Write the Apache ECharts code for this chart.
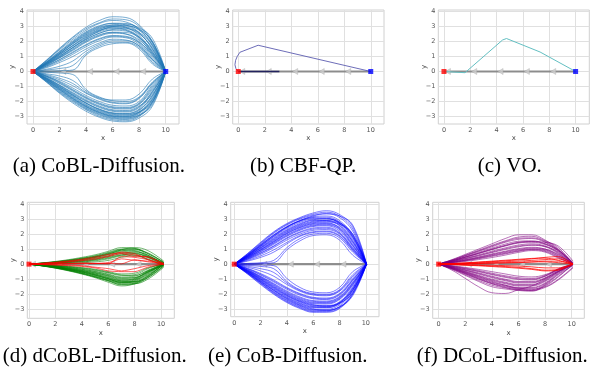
<!DOCTYPE html>
<html><head><meta charset="utf-8">
<script src="https://cdn.jsdelivr.net/npm/echarts@6/dist/echarts.min.js"></script>
<style>html,body{margin:0;padding:0;background:#fff}#c{width:595px;height:369px}</style>
</head><body><div id="c"></div>
<script>
// ---------- tick labels & captions ----------
const xTickValues = [0, 2, 4, 6, 8, 10];
const yTickValues = [-3, -2, -1, 0, 1, 2, 3, 4];
const captions = ['(a) CoBL-Diffusion.', '(b) CBF-QP.', '(c) VO.', '(d) dCoBL-Diffusion.', '(e) CoB-Diffusion.', '(f) DCoL-Diffusion.'];

// ---------- obstacle (other agent) path ----------
const obstaclePath = [[0, 0], [10, 0]];
const obstacleArrowX = [0.3, 2.3, 4.3, 6.3, 8.3];
const startPoint = [0, 0];
const goalPoint = [10, 0];

// ---------- (a) CoBL-Diffusion ----------
const xsA = [0, 1, 2, 3, 4, 5, 6, 7, 8, 9, 10];
const coblTraj = [
  [0,0.75,1.55,2.3,2.95,3.4,3.65,3.6,3.1,2.0,0],
  [0,0.7,1.45,2.15,2.75,3.2,3.4,3.3,2.8,1.7,0],
  [0,0.65,1.35,2.05,2.65,3.05,3.2,3.1,2.6,1.5,0],
  [0,0.6,1.3,1.95,2.55,2.95,3.1,2.95,2.4,1.3,0],
  [0,0.6,1.2,1.85,2.45,2.85,3.0,2.9,2.5,1.6,0],
  [0,0.55,1.15,1.75,2.35,2.75,2.9,2.8,2.3,1.2,0],
  [0,0.5,1.1,1.7,2.25,2.65,2.85,2.75,2.2,1.1,0],
  [0,0.5,1.05,1.6,2.15,2.55,2.75,2.7,2.3,1.4,0],
  [0,0.45,0.95,1.5,2.05,2.45,2.6,2.5,2.0,1.0,0],
  [0,0.4,0.9,1.4,1.95,2.35,2.55,2.5,2.1,1.2,0],
  [0,0.35,0.8,1.3,1.8,2.2,2.4,2.35,1.9,0.9,0],
  [0,0.3,0.7,1.15,1.65,2.05,2.3,2.25,1.8,0.8,0],
  [0,0.25,0.6,1.0,1.5,1.9,2.15,2.1,1.7,0.7,0],
  [0,0.1,0.2,0.4,1.2,1.7,1.95,1.95,1.6,0.6,0],
  [0,0.02,0.05,0.1,1.1,1.6,1.85,1.9,1.5,0.5,0],
  [0,0.5,1.0,1.6,2.2,2.7,3.0,3.05,2.8,2.0,0],
  [0,0.55,1.2,1.9,2.5,2.9,3.1,3.15,2.9,2.2,0],
  [0,0.72,1.5,2.25,2.85,3.25,3.5,3.45,3.0,1.9,0],
  [0,0.62,1.28,1.98,2.6,3.0,3.22,3.2,2.85,1.95,0],
  [0,0.58,1.22,1.85,2.4,2.8,3.05,3.05,2.75,1.8,0],
  [0,0.52,1.12,1.72,2.3,2.72,2.95,2.95,2.55,1.5,0],
  [0,0.46,1.0,1.58,2.12,2.55,2.8,2.85,2.6,1.75,0],
  [0,0.42,0.92,1.45,2.0,2.4,2.62,2.6,2.25,1.3,0],
  [0,0.36,0.78,1.25,1.75,2.15,2.35,2.3,1.95,1.1,0],
  [0,0.15,0.35,0.7,1.35,1.8,2.05,2.05,1.7,0.8,0],
  [0,-0.7,-1.45,-2.1,-2.65,-3.05,-3.3,-3.35,-3.1,-2.3,0],
  [0,-0.65,-1.35,-1.95,-2.5,-2.9,-3.15,-3.2,-2.95,-2.1,0],
  [0,-0.6,-1.25,-1.85,-2.4,-2.8,-3.05,-3.1,-2.8,-1.9,0],
  [0,-0.55,-1.15,-1.75,-2.3,-2.7,-2.95,-3.0,-2.7,-1.7,0],
  [0,-0.5,-1.1,-1.65,-2.2,-2.6,-2.85,-2.9,-2.6,-1.6,0],
  [0,-0.5,-1.05,-1.6,-2.1,-2.5,-2.75,-2.8,-2.5,-1.4,0],
  [0,-0.45,-0.95,-1.5,-2.0,-2.4,-2.65,-2.7,-2.4,-1.3,0],
  [0,-0.4,-0.9,-1.4,-1.9,-2.3,-2.55,-2.6,-2.3,-1.5,0],
  [0,-0.35,-0.8,-1.3,-1.8,-2.2,-2.45,-2.5,-2.2,-1.2,0],
  [0,-0.3,-0.7,-1.2,-1.7,-2.1,-2.35,-2.4,-2.1,-1.0,0],
  [0,-0.3,-0.65,-1.1,-1.6,-2.0,-2.25,-2.3,-2.0,-0.9,0],
  [0,-0.25,-0.55,-0.95,-1.45,-1.85,-2.1,-2.15,-1.8,-0.8,0],
  [0,-0.15,-0.3,-0.6,-1.3,-1.75,-1.95,-2.0,-1.7,-0.7,0],
  [0,-0.05,-0.1,-0.2,-1.2,-1.7,-1.9,-1.9,-1.5,-0.5,0],
  [0,-0.6,-1.2,-1.8,-2.35,-2.75,-3.0,-3.05,-2.9,-2.2,0],
  [0,-0.45,-1.0,-1.55,-2.1,-2.55,-2.8,-2.85,-2.7,-2.0,0],
  [0,-0.68,-1.4,-2.02,-2.55,-2.98,-3.22,-3.28,-3.0,-2.05,0],
  [0,-0.62,-1.3,-1.9,-2.45,-2.85,-3.1,-3.15,-2.9,-2.0,0],
  [0,-0.57,-1.2,-1.8,-2.33,-2.73,-2.98,-3.02,-2.75,-1.8,0],
  [0,-0.52,-1.12,-1.7,-2.25,-2.65,-2.9,-2.95,-2.7,-1.85,0],
  [0,-0.48,-1.02,-1.58,-2.12,-2.52,-2.78,-2.82,-2.55,-1.6,0],
  [0,-0.42,-0.92,-1.45,-1.95,-2.35,-2.6,-2.65,-2.35,-1.35,0],
  [0,-0.33,-0.75,-1.25,-1.75,-2.15,-2.4,-2.45,-2.15,-1.1,0],
  [0,-0.2,-0.45,-0.8,-1.4,-1.8,-2.05,-2.1,-1.75,-0.75,0]
];

// ---------- (b) CBF-QP ----------
const cbfX = [0, -0.18, -0.25, -0.2, -0.08, 0.12, 1.5, 10];
const cbfY = [0, 0.2, 0.45, 0.75, 1.0, 1.28, 1.75, 0];
const cbfFlatX = [0, 3.1];
const cbfFlatY = [0, 0];

// ---------- (c) VO ----------
const voX = [0, 0.05, 1.6, 4.45, 4.75, 7.3, 10];
const voY = [0, -0.06, -0.08, 2.1, 2.2, 1.3, 0];

// ---------- (d) dCoBL-Diffusion ----------
const xsD = [0, 1, 2, 3, 4, 5, 6, 7, 8, 9, 10.2];
const dcoblGreen = [
  [0,0.08,0.18,0.3,0.45,0.62,0.85,1.1,1.05,0.7,0.1],
  [0,0.07,0.16,0.27,0.4,0.56,0.78,1.0,1.0,0.6,0],
  [0,0.06,0.14,0.24,0.36,0.5,0.7,0.92,0.9,0.55,0.05],
  [0,0.05,0.12,0.2,0.3,0.44,0.62,0.82,0.85,0.5,-0.05],
  [0,0.05,0.1,0.17,0.26,0.38,0.55,0.75,0.75,0.45,0],
  [0,0.04,0.08,0.13,0.2,0.3,0.45,0.62,0.7,0.5,0.1],
  [0,0.03,0.06,0.1,0.15,0.22,0.35,0.55,0.6,0.35,0],
  [0,0.02,0.04,0.06,0.1,0.15,0.25,0.45,0.55,0.3,-0.1],
  [0,0.05,0.11,0.19,0.3,0.45,0.65,0.95,1.1,0.9,0.2],
  [0,0.06,0.13,0.22,0.34,0.48,0.68,0.88,0.95,0.75,0.1],
  [0,0.07,0.15,0.25,0.38,0.53,0.74,0.98,1.02,0.7,0.15],
  [0,0.04,0.09,0.15,0.23,0.34,0.5,0.7,0.8,0.6,0],
  [0,0.03,0.07,0.12,0.18,0.27,0.4,0.6,0.68,0.45,0.05],
  [0,-0.12,-0.27,-0.45,-0.66,-0.9,-1.2,-1.45,-1.3,-0.85,-0.1],
  [0,-0.11,-0.25,-0.42,-0.62,-0.86,-1.12,-1.35,-1.25,-0.8,0],
  [0,-0.1,-0.23,-0.39,-0.58,-0.8,-1.05,-1.25,-1.15,-0.7,-0.05],
  [0,-0.1,-0.22,-0.37,-0.55,-0.76,-1.0,-1.2,-1.1,-0.6,0.05],
  [0,-0.09,-0.2,-0.34,-0.5,-0.7,-0.95,-1.15,-1.05,-0.55,0],
  [0,-0.08,-0.18,-0.31,-0.46,-0.65,-0.88,-1.1,-1.0,-0.5,-0.1],
  [0,-0.08,-0.17,-0.29,-0.43,-0.6,-0.82,-1.05,-0.95,-0.45,0],
  [0,-0.07,-0.15,-0.26,-0.39,-0.55,-0.75,-0.95,-0.9,-0.5,0.1],
  [0,-0.06,-0.13,-0.22,-0.34,-0.48,-0.66,-0.85,-0.8,-0.4,0],
  [0,-0.05,-0.11,-0.19,-0.29,-0.42,-0.58,-0.75,-0.7,-0.3,0.05],
  [0,-0.04,-0.09,-0.15,-0.23,-0.34,-0.5,-0.65,-0.6,-0.25,0],
  [0,-0.12,-0.26,-0.43,-0.63,-0.85,-1.08,-1.3,-1.3,-1.0,-0.2],
  [0,-0.1,-0.22,-0.36,-0.52,-0.72,-0.96,-1.2,-1.2,-0.9,-0.1],
  [0,-0.09,-0.19,-0.32,-0.47,-0.66,-0.9,-1.12,-1.15,-0.75,0],
  [0,-0.11,-0.24,-0.4,-0.6,-0.83,-1.1,-1.38,-1.32,-0.9,-0.15],
  [0,-0.1,-0.21,-0.35,-0.52,-0.73,-0.98,-1.22,-1.18,-0.8,0],
  [0,-0.08,-0.17,-0.28,-0.42,-0.58,-0.78,-1.0,-1.0,-0.65,0.05],
  [0,-0.06,-0.14,-0.23,-0.35,-0.5,-0.7,-0.9,-0.88,-0.55,0],
  [0,-0.05,-0.1,-0.17,-0.26,-0.38,-0.55,-0.72,-0.75,-0.45,-0.05]
];
const dcoblRed = [
  [0,0.06,0.13,0.22,0.33,0.48,0.65,0.75,0.6,0.45,0.05],
  [0,0.04,0.09,0.15,0.23,0.33,0.5,0.7,0.5,0.5,0],
  [0,0.02,0.04,0.06,0.08,0.05,0.02,0.5,0.45,0.3,0],
  [0,0.01,0.02,0.03,0.05,0.05,0.1,0.35,0.25,0.2,0.05],
  [0,-0.03,-0.06,-0.1,-0.15,-0.25,-0.45,-0.5,-0.5,-0.2,0],
  [0,-0.02,-0.04,-0.06,-0.1,-0.2,-0.3,-0.45,-0.3,-0.1,0],
  [0,0.05,0.1,0.18,0.28,0.4,0.55,0.8,0.7,0.3,-0.05],
  [0,0,0,0.02,0.03,0.04,0.05,0.02,0.3,0.15,0]
];

// ---------- (e) CoB-Diffusion ----------
const xsE = [0, 1, 2, 3, 4, 5, 6, 7, 8, 9, 10.05];
const cobTraj = [
  [0,0.7,1.45,2.15,2.7,3.1,3.4,3.55,3.3,2.5,0],
  [0,0.65,1.35,2.05,2.6,3.0,3.25,3.35,3.1,2.2,0],
  [0,0.62,1.3,1.95,2.5,2.9,3.15,3.2,2.9,1.9,0],
  [0,0.6,1.25,1.9,2.45,2.85,3.05,3.05,2.7,1.7,0],
  [0,0.55,1.15,1.75,2.3,2.7,2.95,3.0,2.75,1.9,0],
  [0,0.52,1.1,1.7,2.25,2.65,2.9,2.9,2.6,1.6,0],
  [0,0.5,1.05,1.6,2.15,2.55,2.8,2.85,2.55,1.5,0],
  [0,0.45,0.95,1.5,2.05,2.45,2.7,2.75,2.4,1.4,0],
  [0,0.42,0.9,1.42,1.95,2.35,2.6,2.65,2.35,1.3,0],
  [0,0.38,0.82,1.32,1.85,2.25,2.5,2.55,2.2,1.2,0],
  [0,0.35,0.75,1.22,1.75,2.15,2.4,2.45,2.1,1.1,0],
  [0,0.3,0.65,1.1,1.6,2.0,2.25,2.3,2.0,1.0,0],
  [0,0.2,0.45,0.8,1.35,1.85,2.1,2.15,1.85,0.9,0],
  [0,0.05,0.1,0.25,1.1,1.7,2.0,2.05,1.75,0.8,0],
  [0,0.02,0.04,0.1,0.95,1.55,1.9,1.95,1.6,0.6,0],
  [0,0.55,1.2,1.85,2.45,2.9,3.2,3.35,3.2,2.6,0],
  [0,0.48,1.0,1.55,2.1,2.5,2.75,2.8,2.65,2.0,0],
  [0,0.68,1.4,2.1,2.65,3.05,3.32,3.45,3.2,2.35,0],
  [0,0.6,1.27,1.92,2.48,2.88,3.1,3.12,2.8,1.8,0],
  [0,0.57,1.2,1.82,2.38,2.78,3.0,3.02,2.78,2.0,0],
  [0,0.5,1.08,1.65,2.2,2.6,2.85,2.9,2.7,1.8,0],
  [0,0.44,0.95,1.48,2.02,2.42,2.66,2.7,2.45,1.5,0],
  [0,0.4,0.85,1.38,1.9,2.3,2.55,2.6,2.3,1.25,0],
  [0,0.33,0.72,1.18,1.7,2.1,2.33,2.38,2.05,1.05,0],
  [0,0.25,0.55,0.95,1.45,1.9,2.15,2.2,1.9,0.95,0],
  [0,-0.65,-1.35,-2.0,-2.55,-2.95,-3.2,-3.2,-2.95,-2.0,0],
  [0,-0.6,-1.25,-1.9,-2.45,-2.85,-3.1,-3.1,-2.8,-1.8,0],
  [0,-0.57,-1.2,-1.82,-2.35,-2.75,-3.0,-3.0,-2.7,-1.7,0],
  [0,-0.54,-1.14,-1.74,-2.27,-2.67,-2.9,-2.9,-2.6,-1.6,0],
  [0,-0.5,-1.07,-1.65,-2.18,-2.58,-2.82,-2.83,-2.55,-1.7,0],
  [0,-0.47,-1.0,-1.56,-2.08,-2.48,-2.72,-2.75,-2.5,-1.5,0],
  [0,-0.44,-0.94,-1.48,-2.0,-2.4,-2.63,-2.65,-2.35,-1.4,0],
  [0,-0.4,-0.87,-1.38,-1.9,-2.3,-2.53,-2.55,-2.25,-1.3,0],
  [0,-0.36,-0.8,-1.28,-1.78,-2.18,-2.42,-2.45,-2.15,-1.2,0],
  [0,-0.32,-0.72,-1.18,-1.67,-2.06,-2.3,-2.35,-2.05,-1.1,0],
  [0,-0.27,-0.62,-1.05,-1.55,-1.95,-2.2,-2.25,-1.95,-1.0,0],
  [0,-0.2,-0.45,-0.8,-1.35,-1.8,-2.05,-2.1,-1.8,-0.9,0],
  [0,-0.08,-0.15,-0.3,-1.15,-1.7,-1.95,-2.0,-1.7,-0.7,0],
  [0,-0.02,-0.05,-0.1,-0.95,-1.55,-1.85,-1.9,-1.55,-0.5,0],
  [0,-0.55,-1.15,-1.75,-2.3,-2.72,-2.98,-3.05,-2.85,-2.1,0],
  [0,-0.45,-0.98,-1.52,-2.05,-2.45,-2.7,-2.78,-2.6,-1.9,0],
  [0,-0.63,-1.3,-1.95,-2.5,-2.9,-3.15,-3.15,-2.9,-1.9,0],
  [0,-0.58,-1.22,-1.86,-2.4,-2.8,-3.05,-3.07,-2.85,-2.0,0],
  [0,-0.52,-1.1,-1.7,-2.22,-2.62,-2.86,-2.88,-2.62,-1.75,0],
  [0,-0.48,-1.03,-1.6,-2.12,-2.52,-2.77,-2.8,-2.55,-1.6,0],
  [0,-0.42,-0.9,-1.43,-1.95,-2.35,-2.58,-2.6,-2.3,-1.35,0],
  [0,-0.38,-0.83,-1.33,-1.84,-2.24,-2.47,-2.5,-2.2,-1.25,0],
  [0,-0.3,-0.67,-1.12,-1.6,-2.0,-2.25,-2.3,-2.0,-1.05,0],
  [0,-0.14,-0.3,-0.55,-1.25,-1.75,-2.0,-2.05,-1.75,-0.8,0]
];

// ---------- (f) DCoL-Diffusion ----------
const xsF = [0, 1, 2, 3, 4, 5, 6, 7, 8, 9, 10.1];
const dcolPurple = [
  [0,0.3,0.65,1.0,1.35,1.7,1.95,1.95,1.6,1.0,0.1],
  [0,0.28,0.6,0.92,1.25,1.55,1.8,1.85,1.55,1.1,0],
  [0,0.25,0.55,0.85,1.15,1.45,1.65,1.7,1.45,0.9,0.05],
  [0,0.23,0.5,0.78,1.06,1.33,1.52,1.55,1.35,0.85,0],
  [0,0.2,0.45,0.7,0.96,1.2,1.4,1.45,1.3,0.9,0.1],
  [0,0.18,0.4,0.62,0.86,1.08,1.27,1.35,1.2,0.75,0],
  [0,0.16,0.35,0.55,0.77,0.97,1.15,1.25,1.15,0.7,-0.05],
  [0,0.14,0.3,0.48,0.68,0.86,1.03,1.12,1.0,0.6,0],
  [0,0.12,0.26,0.42,0.6,0.77,0.93,1.02,0.95,0.55,0.05],
  [0,0.1,0.22,0.36,0.52,0.68,0.85,0.95,0.85,0.45,0],
  [0,0.08,0.18,0.3,0.44,0.6,0.78,0.9,0.8,0.4,0],
  [0,0.22,0.47,0.73,1.0,1.25,1.45,1.5,1.45,1.2,0.2],
  [0,0.26,0.57,0.88,1.2,1.5,1.72,1.75,1.5,0.95,0],
  [0,0.21,0.46,0.72,0.98,1.23,1.44,1.5,1.35,0.95,0.05],
  [0,0.17,0.37,0.58,0.8,1.02,1.2,1.28,1.18,0.8,0],
  [0,0.13,0.28,0.45,0.64,0.82,0.98,1.07,1.0,0.65,0],
  [0,0.11,0.24,0.39,0.56,0.72,0.88,0.98,0.9,0.5,-0.05],
  [0,-0.35,-0.75,-1.15,-1.5,-1.65,-1.75,-1.8,-1.4,-0.8,0],
  [0,-0.4,-0.95,-1.5,-1.9,-1.95,-1.7,-1.45,-1.0,-0.5,0],
  [0,-0.3,-0.65,-1.0,-1.3,-1.5,-1.65,-1.7,-1.35,-0.7,-0.1],
  [0,-0.27,-0.58,-0.9,-1.2,-1.4,-1.55,-1.55,-1.25,-0.6,0],
  [0,-0.24,-0.52,-0.82,-1.1,-1.3,-1.45,-1.45,-1.15,-0.55,0.05],
  [0,-0.22,-0.47,-0.74,-1.0,-1.2,-1.35,-1.35,-1.05,-0.5,0],
  [0,-0.2,-0.42,-0.66,-0.9,-1.1,-1.25,-1.25,-0.95,-0.45,0],
  [0,-0.17,-0.37,-0.58,-0.8,-1.0,-1.15,-1.15,-0.9,-0.4,-0.1],
  [0,-0.15,-0.32,-0.5,-0.7,-0.88,-1.02,-1.05,-0.8,-0.35,0],
  [0,-0.12,-0.26,-0.42,-0.6,-0.77,-0.9,-0.95,-0.75,-0.3,0],
  [0,-0.1,-0.22,-0.35,-0.5,-0.65,-0.8,-0.85,-0.7,-0.35,0],
  [0,-0.25,-0.55,-0.85,-1.15,-1.4,-1.6,-1.65,-1.5,-1.0,-0.2],
  [0,-0.32,-0.7,-1.08,-1.4,-1.58,-1.7,-1.75,-1.45,-0.85,0],
  [0,-0.28,-0.6,-0.94,-1.25,-1.45,-1.6,-1.6,-1.3,-0.65,0],
  [0,-0.23,-0.5,-0.78,-1.05,-1.25,-1.4,-1.4,-1.1,-0.5,0],
  [0,-0.19,-0.4,-0.62,-0.85,-1.05,-1.2,-1.2,-0.95,-0.45,-0.05],
  [0,-0.14,-0.3,-0.47,-0.66,-0.83,-0.97,-1.0,-0.8,-0.35,0],
  [0,-0.3,-0.63,-0.98,-1.3,-1.55,-1.72,-1.75,-1.55,-1.05,-0.25]
];
const dcolRed = [
  [0,0.03,0.07,0.12,0.17,0.22,0.28,0.35,0.45,0.5,0],
  [0,0.02,0.05,0.08,0.12,0.16,0.2,0.25,0.3,0.35,0],
  [0,0.01,0.02,0.04,0.06,0.08,0.1,0.14,0.2,0.2,0],
  [0,-0.01,-0.03,-0.05,-0.07,-0.1,-0.13,-0.18,-0.25,-0.25,0],
  [0,-0.02,-0.05,-0.08,-0.12,-0.16,-0.22,-0.3,-0.4,-0.35,0],
  [0,-0.03,-0.07,-0.11,-0.16,-0.21,-0.27,-0.35,-0.45,-0.4,0],
  [0,0.04,0.09,0.14,0.2,0.26,0.32,0.38,0.4,0.25,0],
  [0,0.02,0.04,0.06,0.08,0.1,0.12,0.15,0.15,0.1,0]
];

// ---------- layout ----------
const panels = [
  {grid:{left:27, top:10, width:152, height:114}, x:[-0.45, 11], y:[-3.5, 4.1]},
  {grid:{left:232.7, top:10, width:151.3, height:114}, x:[-0.42, 11], y:[-3.5, 4.1]},
  {grid:{left:438.3, top:10, width:151, height:114}, x:[-0.43, 11.04], y:[-3.5, 4.1]},
  {grid:{left:27.3, top:202.3, width:147, height:116}, x:[-0.13, 11.0], y:[-3.6, 4.11]},
  {grid:{left:230.7, top:202.3, width:148.3, height:114.4}, x:[-0.27, 11.0], y:[-3.49, 4.11]},
  {grid:{left:432.7, top:202.3, width:151.6, height:116}, x:[-0.45, 10.95], y:[-3.6, 4.11]}
];
const captionPos = [[12.7,166.5],[250,166.5],[477.7,166.5],[2.7,356],[208,356],[416.7,356]];

const fmt = v => (v < 0 ? '\u2212' + (-v) : String(v));
const tickFont = {fontSize:6.5, color:'#555', fontFamily:'DejaVu Sans'};
const grid = [], xAxis = [], yAxis = [], series = [];
panels.forEach((p, i) => {
  grid.push(Object.assign({show:true, borderColor:'#d0d0d0', borderWidth:1, backgroundColor:'#fff'}, p.grid));
  xAxis.push({type:'value', gridIndex:i, min:p.x[0], max:p.x[1], name:'x', nameLocation:'middle', nameGap:i < 3 ? 9 : 7,
    nameTextStyle:{fontSize:7, color:'#444', fontFamily:'DejaVu Sans'},
    axisLine:{show:false}, axisTick:{show:false, customValues:xTickValues},
    axisLabel:Object.assign({customValues:xTickValues, margin:3, formatter:fmt}, tickFont),
    splitLine:{show:true, lineStyle:{color:'#e0e0e0', width:1}}});
  yAxis.push({type:'value', gridIndex:i, min:p.y[0], max:p.y[1], name:'y', nameLocation:'middle', nameGap:11,
    nameMoveOverlap:false,
    nameTextStyle:{fontSize:7, color:'#444', fontFamily:'DejaVu Sans'},
    axisLine:{show:false}, axisTick:{show:false, customValues:yTickValues},
    axisLabel:Object.assign({customValues:yTickValues, margin:3, formatter:fmt}, tickFont),
    splitLine:{show:true, lineStyle:{color:'#e0e0e0', width:1}}});
});

function line(idx, xs, ys, color, opacity, width, smooth, z) {
  return {type:'line', xAxisIndex:idx, yAxisIndex:idx, data:xs.map((x, k) => [x, ys[k]]),
    showSymbol:false, symbol:'none', smooth:smooth, lineStyle:{color:color, width:width, opacity:opacity},
    silent:true, animation:false, z:z};
}
function obstacle(idx) {
  series.push({type:'line', xAxisIndex:idx, yAxisIndex:idx, data:obstaclePath, showSymbol:false, symbol:'none',
    lineStyle:{color:'#7d7d7d', width:2.2, opacity:0.85}, silent:true, animation:false, z:1});
  series.push({type:'scatter', xAxisIndex:idx, yAxisIndex:idx, data:obstacleArrowX.map(x => [x, 0]),
    symbol:'triangle', symbolRotate:90, symbolSize:[6, 5], itemStyle:{color:'#cfcfcf', borderColor:'#a8a8a8', borderWidth:0.5},
    silent:true, animation:false, z:2});
}
function markers(idx, withGoal) {
  series.push({type:'scatter', xAxisIndex:idx, yAxisIndex:idx, data:[startPoint], symbol:'rect', symbolSize:5,
    itemStyle:{color:'#ff0000'}, silent:true, animation:false, z:6});
  if (withGoal) series.push({type:'scatter', xAxisIndex:idx, yAxisIndex:idx, data:[goalPoint], symbol:'rect', symbolSize:5,
    itemStyle:{color:'#0000ff'}, silent:true, animation:false, z:6});
}

// (a)
obstacle(0);
coblTraj.forEach(t => series.push(line(0, xsA, t, '#1f77b4', 0.6, 1, 0.4, 3)));
markers(0, true);
// (b)
obstacle(1);
series.push(line(1, cbfFlatX, cbfFlatY, '#23235e', 1, 1.3, false, 3));
series.push(line(1, cbfX, cbfY, '#5c5cb0', 1, 0.9, false, 3));
markers(1, true);
// (c)
obstacle(2);
series.push(line(2, voX, voY, '#63bfc2', 1, 1, false, 3));
markers(2, true);
// (d)
obstacle(3);
dcoblGreen.forEach(t => series.push(line(3, xsD, t, '#008000', 0.55, 1, 0.4, 3)));
dcoblRed.forEach(t => series.push(line(3, xsD, t, '#ff0000', 0.7, 0.9, 0.2, 4)));
markers(3, false);
// (e)
obstacle(4);
cobTraj.forEach(t => series.push(line(4, xsE, t, '#0000ff', 0.5, 1, 0.4, 3)));
markers(4, false);
// (f)
obstacle(5);
dcolPurple.forEach(t => series.push(line(5, xsF, t, '#800080', 0.55, 1, 0.4, 3)));
dcolRed.forEach(t => series.push(line(5, xsF, t, '#ff0000', 0.75, 1, 0.3, 4)));
markers(5, false);

const graphic = captions.map((t, i) => ({type:'text', x:captionPos[i][0], y:captionPos[i][1], silent:true,
  style:{text:t, font:'21px "Liberation Serif"', fill:'#000', verticalAlign:'middle', align:'left'}}));

const chart = echarts.init(document.getElementById('c'), null, {renderer:'canvas', width:595, height:369});
chart.setOption({animation:false, backgroundColor:'#fff', grid, xAxis, yAxis, series, graphic});
</script>
</body></html>
